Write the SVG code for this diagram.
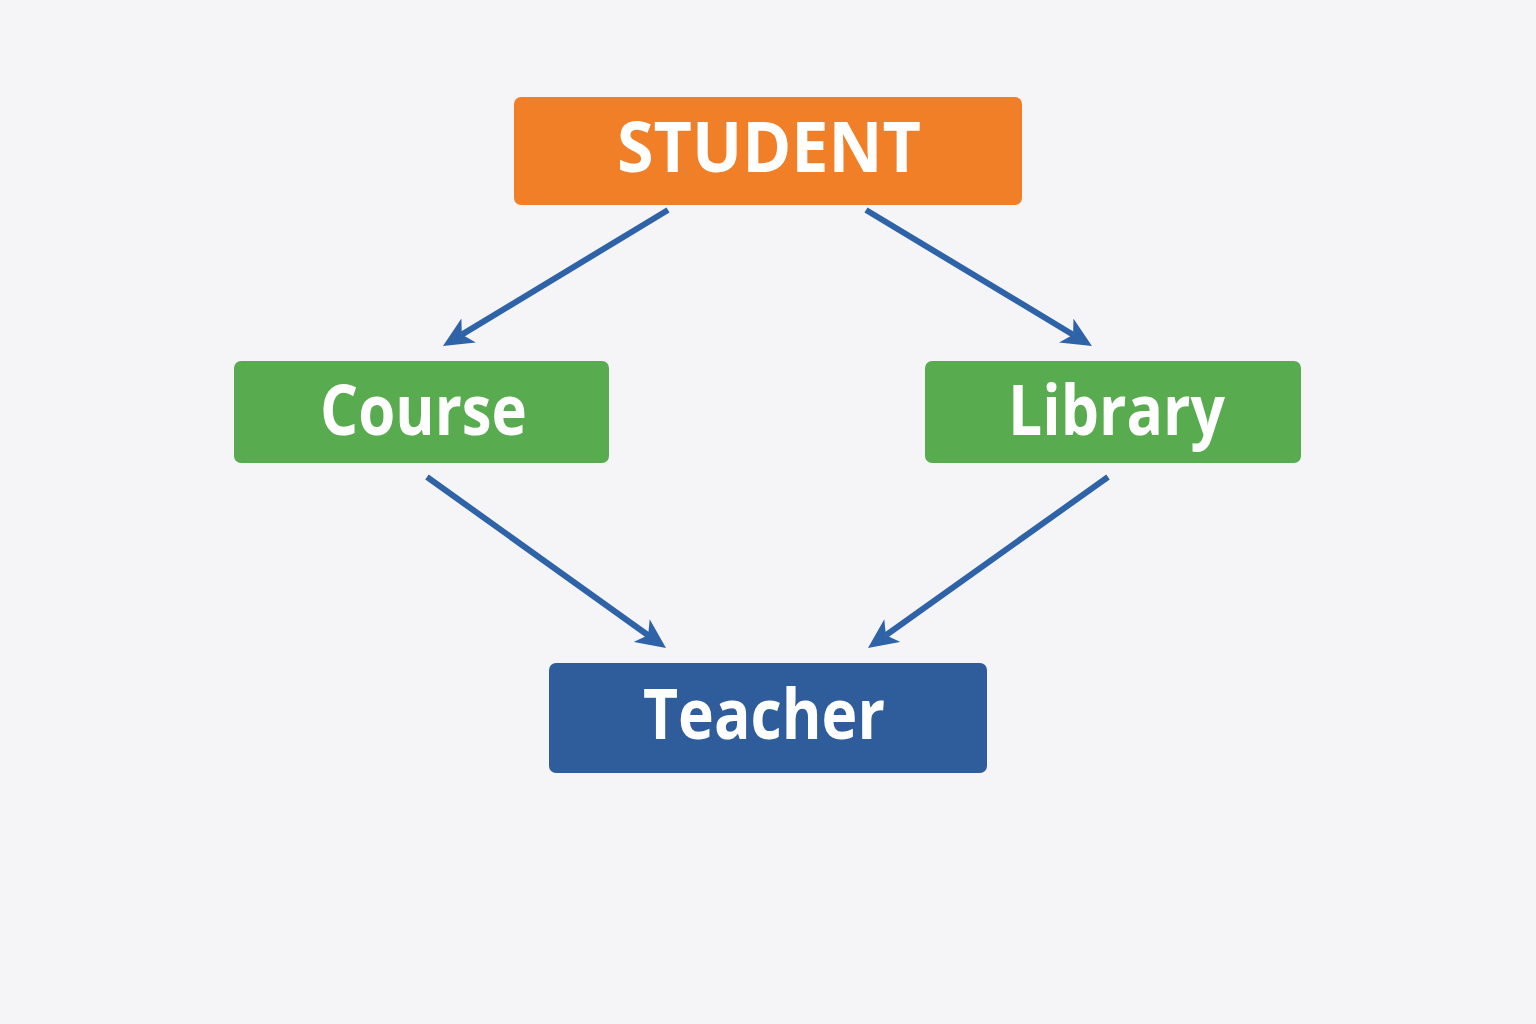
<svg xmlns="http://www.w3.org/2000/svg" width="1536" height="1024" viewBox="0 0 1536 1024">
<style>
.lbl{font-family:"Open Sans","Noto Sans","Liberation Sans",sans-serif;font-weight:700;fill:#ffffff;text-anchor:middle}
.conn{stroke:#2f63a8;stroke-width:6;fill:none;marker-end:url(#ah)}
</style>
<defs>
<marker id="ah" markerUnits="userSpaceOnUse" viewBox="0 0 30 28" markerWidth="30" markerHeight="28" refX="8" refY="14" orient="auto">
<path d="M0,0 L30,14 L0,28 L8,14 z" fill="#2f63a8"/>
</marker>
</defs>
<rect width="1536" height="1024" fill="#f5f5f8"/>
<g id="connectors">
<line class="conn" x1="668" y1="210" x2="461.8" y2="334.6"/>
<line class="conn" x1="866" y1="210" x2="1073.1" y2="334.7"/>
<line class="conn" x1="427" y1="477" x2="648.1" y2="635.2"/>
<line class="conn" x1="1108" y1="477" x2="885.9" y2="635.2"/>
</g>
<g id="student">
<rect x="514" y="97" width="508" height="108" rx="7" fill="#f07f27"/>
<text class="lbl" x="769" y="172" font-size="70" textLength="304" lengthAdjust="spacingAndGlyphs">STUDENT</text>
</g>
<g id="course">
<rect x="234" y="361" width="375" height="102" rx="7" fill="#58ab4e"/>
<text class="lbl" x="423.5" y="435" font-size="70" textLength="207" lengthAdjust="spacingAndGlyphs">Course</text>
</g>
<g id="library">
<rect x="925" y="361" width="376" height="102" rx="7" fill="#58ab4e"/>
<text class="lbl" x="1116.5" y="435" font-size="70" textLength="217" lengthAdjust="spacingAndGlyphs">Library</text>
</g>
<g id="teacher">
<rect x="549" y="663" width="438" height="110" rx="7" fill="#2f5c9a"/>
<text class="lbl" x="764" y="739" font-size="70" textLength="242" lengthAdjust="spacingAndGlyphs">Teacher</text>
</g>
</svg>
